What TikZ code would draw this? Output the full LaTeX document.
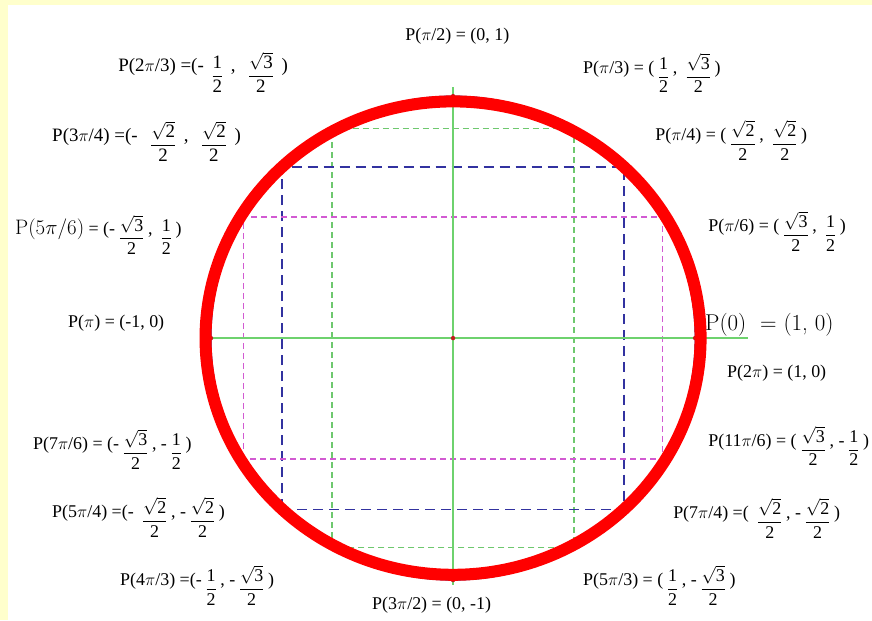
\documentclass[tikz,border=0pt]{standalone}
\usepackage{amsmath}
\usepackage{fontspec}
\newfontfamily\tnr{Liberation Serif}

% fractions du type MathType : barre un peu sous la ligne de base
\newcommand{\fr}[2]{\hspace{0.2em}\raisebox{-0.45em}{$\genfrac{}{}{0.6pt}{0}{\text{#1}}{\text{#2}}$}\hspace{0.2em}}
\newcommand{\frl}[2]{\hspace{0.4em}\raisebox{-0.45em}{$\genfrac{}{}{0.6pt}{0}{\text{#1}}{\text{#2}}$}\hspace{0.4em}}
\newcommand{\rt}[1]{$\sqrt{\text{#1}}$}

\definecolor{fondjaune}{RGB}{255,255,204}
\definecolor{bleucercle}{RGB}{40,40,140}
\definecolor{vertaxe}{RGB}{110,210,110}
\definecolor{vertpt}{RGB}{110,200,110}
\definecolor{bleupt}{RGB}{50,50,160}
\definecolor{rosept}{RGB}{210,90,210}
\definecolor{rougept}{RGB}{190,30,30}

\tikzset{
  etiq/.style={anchor=base west, inner sep=0pt, font=\tnr\fontsize{18}{21}\selectfont},
  etiqg/.style={etiq, font=\tnr\fontsize{19}{22}\selectfont},
  grand/.style={anchor=base west, inner sep=0pt, font=\fontsize{23}{27}\selectfont},
}

\begin{document}
\begin{tikzpicture}[x=242bp, y=242bp]
  % Fond
  \useasboundingbox (-1.872,-1.165) rectangle (1.731,1.397);
  \fill[fondjaune] (-1.872,-1.165) rectangle (1.731,1.397);
  \fill[white] (-1.8388,-1.165) rectangle (1.731,1.376);

  % Points clés
  \coordinate (O) at (0,0);
  \coordinate (E) at (0:1);   % P(0)
  \coordinate (N) at (90:1);  % P(pi/2)
  \coordinate (W) at (180:1); % P(pi)
  \coordinate (S) at (270:1); % P(3pi/2)

  % Rectangles pointillés (coins sur le cercle)
  \draw[vertpt, line width=1.4bp, dash pattern=on 6bp off 4bp] (240:1) rectangle (60:1);
  \draw[bleupt, line width=1.4bp, dash pattern=on 10bp off 6bp] (225:1) rectangle (45:1);
  \draw[rosept, line width=1.4bp, dash pattern=on 6bp off 4bp] (210:1) rectangle (30:1);

  % Axes
  \draw[vertaxe, line width=1.5bp] (-1.045,0) -- (1.219,0); % Axe horizontal
  \draw[vertaxe, line width=1.5bp] (0,1.037) -- (0,-1.021); % Axe vertical

  % Le cercle trigonométrique
  \draw[bleucercle, line width=1bp] (O) circle (1);
  \foreach \p in {O,E,N,W,S}
    \fill[rougept] (\p) circle (2.2bp);

  % Ellipse rouge
  \draw[red, line width=12bp] (O) ellipse (1.0227 and 0.978);

  % Étiquettes
  \node[etiq] (l90)  at (-0.198,1.231) {P($\pi$/2) = (0, 1)};
  \node[etiqg] (l120) at (-1.384,1.100) {P(2$\pi$/3) =(-\frl{1}{2}, \frl{\rt{3}}{2})};
  \node[etiq] (l60)  at (0.537,1.095)  {P($\pi$/3) = (\fr{1}{2}, \fr{\rt{3}}{2})};
  \node[etiqg] (l135) at (-1.657,0.814) {P(3$\pi$/4) =(- \frl{\rt{2}}{2}, \frl{\rt{2}}{2})};
  \node[etiq] (l45)  at (0.835,0.818)  {P($\pi$/4) = (\fr{\rt{2}}{2}, \fr{\rt{2}}{2})};
  \node[etiq] (l150) at (-1.810,0.426) {{\rmfamily\fontsize{21}{25}\selectfont P(5$\pi$/6)} = (-\fr{\rt{3}}{2}, \fr{1}{2})};
  \node[etiq] (l30)  at (1.054,0.442)  {P($\pi$/6) = (\fr{\rt{3}}{2}, \fr{1}{2})};
  \node[etiq] (l180) at (-1.591,0.045) {P($\pi$) = (-1, 0)};
  \node[grand] (l0)  at (1.041,0.033)  {P(0) \ = (1, 0)};
  \node[etiq] (l360) at (1.132,-0.161) {P(2$\pi$) = (1, 0)};
  \node[etiq] (l210) at (-1.736,-0.459) {P(7$\pi$/6) = (-\fr{\rt{3}}{2}, -\fr{1}{2})};
  \node[etiq] (l330) at (1.054,-0.446) {P(11$\pi$/6) = (\fr{\rt{3}}{2}, -\fr{1}{2})};
  \node[etiq] (l225) at (-1.657,-0.740) {P(5$\pi$/4) =(- \fr{\rt{2}}{2}, -\fr{\rt{2}}{2})};
  \node[etiq] (l315) at (0.909,-0.744) {P(7$\pi$/4) =( \fr{\rt{2}}{2}, -\fr{\rt{2}}{2})};
  \node[etiq] (l240) at (-1.376,-1.021) {P(4$\pi$/3) =(-\fr{1}{2}, -\fr{\rt{3}}{2})};
  \node[etiq] (l300) at (0.537,-1.021) {P(5$\pi$/3) = (\fr{1}{2}, -\fr{\rt{3}}{2})};
  \node[etiq] (l270) at (-0.335,-1.120) {P(3$\pi$/2) = (0, -1)};
\end{tikzpicture}
\end{document}
